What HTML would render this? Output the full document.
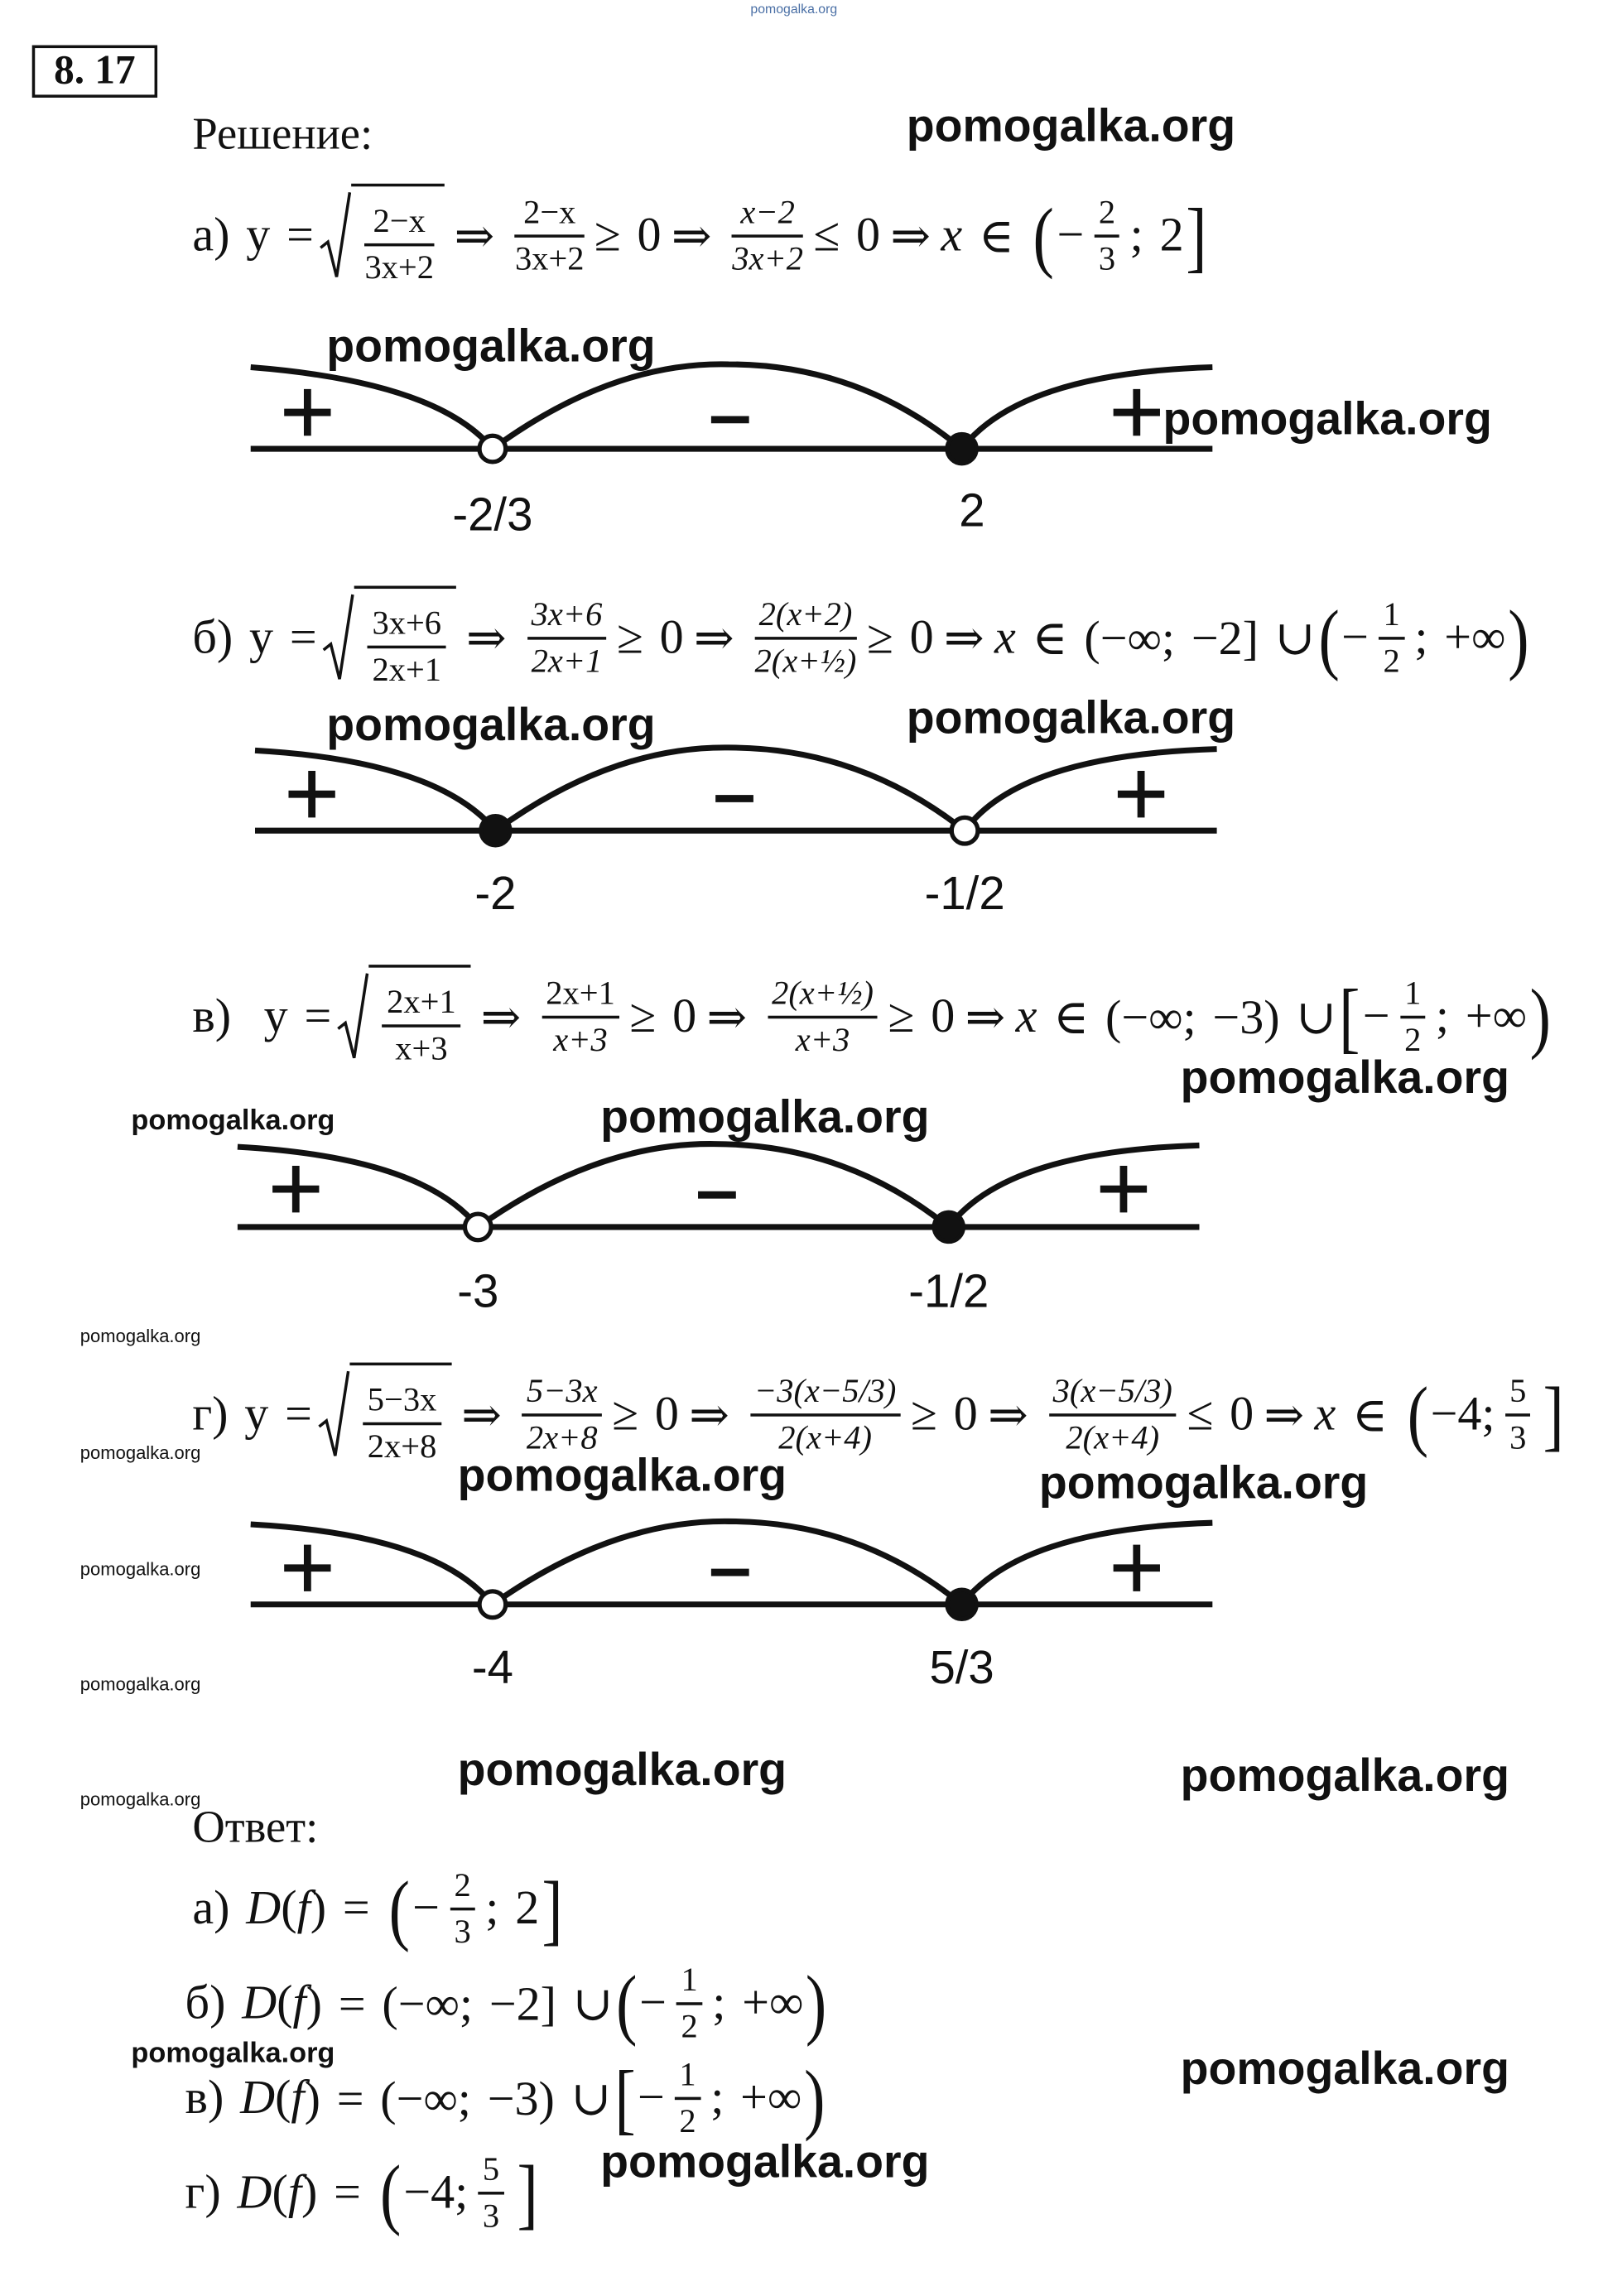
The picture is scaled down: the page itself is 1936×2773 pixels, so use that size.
<!DOCTYPE html>
<html><head><meta charset="utf-8">
<style>
html,body{margin:0;padding:0;background:#fff;}
#wrap{width:1936px;height:2773px;overflow:hidden;position:relative;background:#fff}
#p{position:absolute;left:0;top:0;width:1100px;height:1576px;transform:scale(1.76);transform-origin:0 0;font-family:"Liberation Serif","DejaVu Serif",serif;color:#111}
.a{position:absolute;white-space:nowrap}
.wm{position:absolute;font-family:"Liberation Sans",sans-serif;font-weight:bold;font-size:31.5px;color:#111;white-space:nowrap;line-height:1}
.wm2{position:absolute;font-family:"Liberation Sans",sans-serif;font-weight:bold;font-size:19.5px;color:#111;white-space:nowrap;line-height:1}
.wm3{position:absolute;font-family:"Liberation Sans",sans-serif;font-size:12.5px;color:#111;white-space:nowrap;line-height:1}
.ln{position:absolute;display:flex;align-items:center;height:80px;font-size:33px;white-space:nowrap;word-spacing:3px}
.fr{display:inline-flex;flex-direction:column;text-align:center;font-size:23px;line-height:1.3;margin:0 7px}
.fr>span:first-child{border-bottom:2px solid #111;padding:0 3px}
.sq{display:inline-flex;align-items:center;margin-left:4px}
.sq .in{border-top:2px solid #111;padding-top:3px;padding-left:2px}
.bp{font-size:54px;line-height:1;transform:scaleX(0.8);display:inline-block;font-weight:200}
.i{font-style:italic}
.o{margin:0 7px}
.lab{position:absolute;font-family:"Liberation Sans",sans-serif;font-size:32px;transform:translateX(-50%);line-height:1}
</style></head><body><div id="wrap"><div id="p">
<div class="a" style="left:515px;top:1px;font-family:'Liberation Sans',sans-serif;font-size:9px;color:#4a6fa5">pomogalka.org</div>
<div class="a" style="left:22px;top:31px;width:82px;height:32px;border:2px solid #111;font-weight:bold;font-size:28px;line-height:32px;text-align:center">8. 17</div>
<div class="a" style="left:132px;top:74px;font-size:31px">Решение:</div>

<div class="wm" style="left:622px;top:71px">pomogalka.org</div>
<div class="wm" style="left:224px;top:222px">pomogalka.org</div>
<div class="wm" style="left:798px;top:272px">pomogalka.org</div>
<div class="wm" style="left:224px;top:482px">pomogalka.org</div>
<div class="wm" style="left:622px;top:477px">pomogalka.org</div>
<div class="wm" style="left:810px;top:724px">pomogalka.org</div>
<div class="wm" style="left:412px;top:751px">pomogalka.org</div>
<div class="wm2" style="left:90px;top:760px">pomogalka.org</div>
<div class="wm3" style="left:55px;top:911px">pomogalka.org</div>
<div class="wm3" style="left:55px;top:991px">pomogalka.org</div>
<div class="wm3" style="left:55px;top:1071px">pomogalka.org</div>
<div class="wm3" style="left:55px;top:1150px">pomogalka.org</div>
<div class="wm3" style="left:55px;top:1229px">pomogalka.org</div>
<div class="wm" style="left:314px;top:997px">pomogalka.org</div>
<div class="wm" style="left:713px;top:1002px">pomogalka.org</div>
<div class="wm" style="left:314px;top:1199px">pomogalka.org</div>
<div class="wm" style="left:810px;top:1203px">pomogalka.org</div>
<div class="wm2" style="left:90px;top:1400px">pomogalka.org</div>
<div class="wm" style="left:810px;top:1404px">pomogalka.org</div>
<div class="wm" style="left:412px;top:1468px">pomogalka.org</div>

<!-- a -->
<div class="ln" style="left:132px;top:122px">а) y =<span class="sq"><svg width="22" height="64" viewBox="0 0 22 64"><path d="M1 40 L6 36 L12 60 L21 2" fill="none" stroke="#111" stroke-width="2"/></svg><span class="in"><span class="fr"><span>2−x</span><span>3x+2</span></span></span></span><span class="o">⇒</span><span class="fr"><span>2−x</span><span>3x+2</span></span>≥ 0<span class="o">⇒</span><span class="fr i"><span>x−2</span><span>3x+2</span></span>≤ 0<span class="o">⇒</span><span class="i">x</span>&nbsp;∈&nbsp;<span class="bp">(</span>−<span class="fr"><span>2</span><span>3</span></span>; 2<span class="bp">]</span></div>
<!-- b -->
<div class="ln" style="left:132px;top:398px">б) y =<span class="sq"><svg width="22" height="64" viewBox="0 0 22 64"><path d="M1 40 L6 36 L12 60 L21 2" fill="none" stroke="#111" stroke-width="2"/></svg><span class="in"><span class="fr"><span>3x+6</span><span>2x+1</span></span></span></span><span class="o">⇒</span><span class="fr i"><span>3x+6</span><span>2x+1</span></span>≥ 0<span class="o">⇒</span><span class="fr i"><span>2(x+2)</span><span>2(x+½)</span></span>≥ 0<span class="o">⇒</span><span class="i">x</span>&nbsp;∈ (−∞; −2] ∪ <span class="bp">(</span>−<span class="fr"><span>1</span><span>2</span></span>; +∞<span class="bp">)</span></div>
<!-- c -->
<div class="ln" style="left:132px;top:658px">в)&nbsp; y =<span class="sq"><svg width="22" height="64" viewBox="0 0 22 64"><path d="M1 40 L6 36 L12 60 L21 2" fill="none" stroke="#111" stroke-width="2"/></svg><span class="in"><span class="fr"><span>2x+1</span><span>x+3</span></span></span></span><span class="o">⇒</span><span class="fr"><span>2x+1</span><span class="i">x+3</span></span>≥ 0<span class="o">⇒</span><span class="fr i"><span>2(x+½)</span><span>x+3</span></span>≥ 0<span class="o">⇒</span><span class="i">x</span>&nbsp;∈ (−∞; −3) ∪ <span class="bp">[</span>−<span class="fr"><span>1</span><span>2</span></span>; +∞<span class="bp">)</span></div>
<!-- d -->
<div class="ln" style="left:132px;top:931px">г) y =<span class="sq"><svg width="22" height="64" viewBox="0 0 22 64"><path d="M1 40 L6 36 L12 60 L21 2" fill="none" stroke="#111" stroke-width="2"/></svg><span class="in"><span class="fr"><span>5−3x</span><span>2x+8</span></span></span></span><span class="o">⇒</span><span class="fr i"><span>5−3x</span><span>2x+8</span></span>≥ 0<span class="o">⇒</span><span class="fr i"><span>−3(x−5/3)</span><span>2(x+4)</span></span>≥ 0<span class="o">⇒</span><span class="fr i"><span>3(x−5/3)</span><span>2(x+4)</span></span>≤ 0<span class="o">⇒</span><span class="i">x</span>&nbsp;∈&nbsp;<span class="bp">(</span>−4;<span class="fr"><span>5</span><span>3</span></span><span class="bp">]</span></div>

<svg class="a" style="left:0;top:0" width="1100" height="1576" viewBox="0 0 1100 1576">
<g fill="none" stroke="#111" stroke-width="4">
<line x1="172" y1="308" x2="832" y2="308"/>
<path d="M172 252 Q300 262 338 308"/><path d="M338 308 Q420 248 500 250 Q590 250 660 308"/><path d="M660 308 Q700 256 832 252"/>
<line x1="175" y1="570" x2="835" y2="570"/>
<path d="M175 515 Q300 522 340 570"/><path d="M340 570 Q420 512 500 513 Q590 513 662 570"/><path d="M662 570 Q700 518 835 514"/>
<line x1="163" y1="842" x2="823" y2="842"/>
<path d="M163 787 Q290 794 328 842"/><path d="M328 842 Q410 784 490 785 Q580 785 651 842"/><path d="M651 842 Q690 790 823 786"/>
<line x1="172" y1="1101" x2="832" y2="1101"/>
<path d="M172 1046 Q300 1053 338 1101"/><path d="M338 1101 Q420 1043 500 1044 Q590 1044 660 1101"/><path d="M660 1101 Q700 1049 832 1045"/>
</g>
<g stroke="#111" stroke-width="3">
<circle cx="338" cy="308" r="9" fill="#fff"/><circle cx="660" cy="308" r="10" fill="#111"/>
<circle cx="340" cy="570" r="10" fill="#111"/><circle cx="662" cy="570" r="9" fill="#fff"/>
<circle cx="328" cy="842" r="9" fill="#fff"/><circle cx="651" cy="842" r="10" fill="#111"/>
<circle cx="338" cy="1101" r="9" fill="#fff"/><circle cx="660" cy="1101" r="10" fill="#111"/>
</g>
<g stroke="#111" stroke-width="5">
<path d="M195 283h32M211 267v32M488 288h26M764 283h32M780 267v32"/>
<path d="M198 545h32M214 529v32M491 548h26M767 545h32M783 529v32"/>
<path d="M187 816h32M203 800v32M479 820h26M755 816h32M771 800v32"/>
<path d="M195 1076h32M211 1060v32M488 1079h26M764 1076h32M780 1060v32"/>
</g>
</svg>
<div class="lab" style="left:338px;top:337px">-2/3</div>
<div class="lab" style="left:667px;top:334px">2</div>
<div class="lab" style="left:340px;top:597px">-2</div>
<div class="lab" style="left:662px;top:597px">-1/2</div>
<div class="lab" style="left:328px;top:870px">-3</div>
<div class="lab" style="left:651px;top:870px">-1/2</div>
<div class="lab" style="left:338px;top:1128px">-4</div>
<div class="lab" style="left:660px;top:1128px">5/3</div>

<div class="a" style="left:132px;top:1236px;font-size:31px">Ответ:</div>
<div class="ln" style="left:132px;top:1270px">а) <span class="i">&nbsp;D</span>(<span class="i">f</span>)&nbsp;=&nbsp;<span class="bp">(</span>−<span class="fr"><span>2</span><span>3</span></span>; 2<span class="bp">]</span></div>
<div class="ln" style="left:127px;top:1335px">б) <span class="i">&nbsp;D</span>(<span class="i">f</span>) = (−∞; −2] ∪ <span class="bp">(</span>−<span class="fr"><span>1</span><span>2</span></span>; +∞<span class="bp">)</span></div>
<div class="ln" style="left:127px;top:1400px">в) <span class="i">&nbsp;D</span>(<span class="i">f</span>) = (−∞; −3) ∪ <span class="bp">[</span>−<span class="fr"><span>1</span><span>2</span></span>; +∞<span class="bp">)</span></div>
<div class="ln" style="left:127px;top:1465px">г) <span class="i">&nbsp;D</span>(<span class="i">f</span>)&nbsp;=&nbsp;<span class="bp">(</span>−4;<span class="fr"><span>5</span><span>3</span></span><span class="bp">]</span></div>
</div></div></body></html>
